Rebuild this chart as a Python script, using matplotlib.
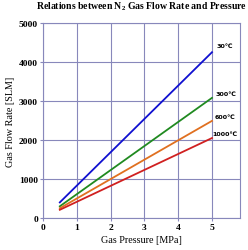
import matplotlib
matplotlib.use("Agg")
import matplotlib.pyplot as plt

# gas pressure [MPa] at the two ends of each line
pressure = [0.5, 5.0]

# flow rate [SLM]
flow_30 = [400, 4250]
flow_300 = [300, 3080]
flow_600 = [250, 2490]
flow_1000 = [210, 2050]

labels = ['30\u2103', '300\u2103', '600\u2103', '1000\u2103']
colors = ['#1010d0', '#208a20', '#e07020', '#d02020']

plt.rcParams['font.family'] = ['Liberation Serif', 'DejaVu Serif']
plt.rcParams['mathtext.fontset'] = 'custom'
plt.rcParams['mathtext.rm'] = 'Liberation Serif'
plt.rcParams['mathtext.bf'] = 'Liberation Serif:bold'
plt.rcParams['mathtext.default'] = 'bf'

fig = plt.figure(figsize=(2.48, 2.51), dpi=100)
ax = fig.add_axes([0.173, 0.1275, 0.795, 0.777])

series = [flow_30, flow_300, flow_600, flow_1000]
for flow, c in zip(series, colors):
    ax.plot(pressure, flow, color=c, lw=1.3)

# labels at the right end of each line
offsets = [80, 0, 0, 0]
xs = [5.12, 5.1, 5.07, 5.02]
for flow, lab, off, x in zip(series, labels, offsets, xs):
    ax.text(x, flow[-1] + off + 40, lab, fontsize=4.6, fontweight='bold',
            ha='left', va='bottom', family=['DejaVu Sans'])

ax.set_xlim(0, 5.83)
ax.set_ylim(0, 5000)
ax.set_xticks([0, 1, 2, 3, 4, 5])
ax.set_yticks([0, 1000, 2000, 3000, 4000, 5000])
ax.grid(True, color='#8888bb', lw=0.8)
for s in ax.spines.values():
    s.set_color('#8888bb')
ax.tick_params(labelsize=6.8, length=2, color='#8888bb', pad=1.5)
for t in ax.get_xticklabels() + ax.get_yticklabels():
    t.set_fontweight('bold')

ax.set_xlabel('Gas Pressure [MPa]', fontsize=7.3, labelpad=3)
ax.set_ylabel('Gas Flow Rate [SLM]', fontsize=7.3, labelpad=3)
fig.text(0.57, 0.975, 'Relations between N$_2$ Gas Flow Rate and Pressure',
         fontsize=7, fontweight='bold', ha='center', va='center')

fig.savefig('out.png', dpi=100)
